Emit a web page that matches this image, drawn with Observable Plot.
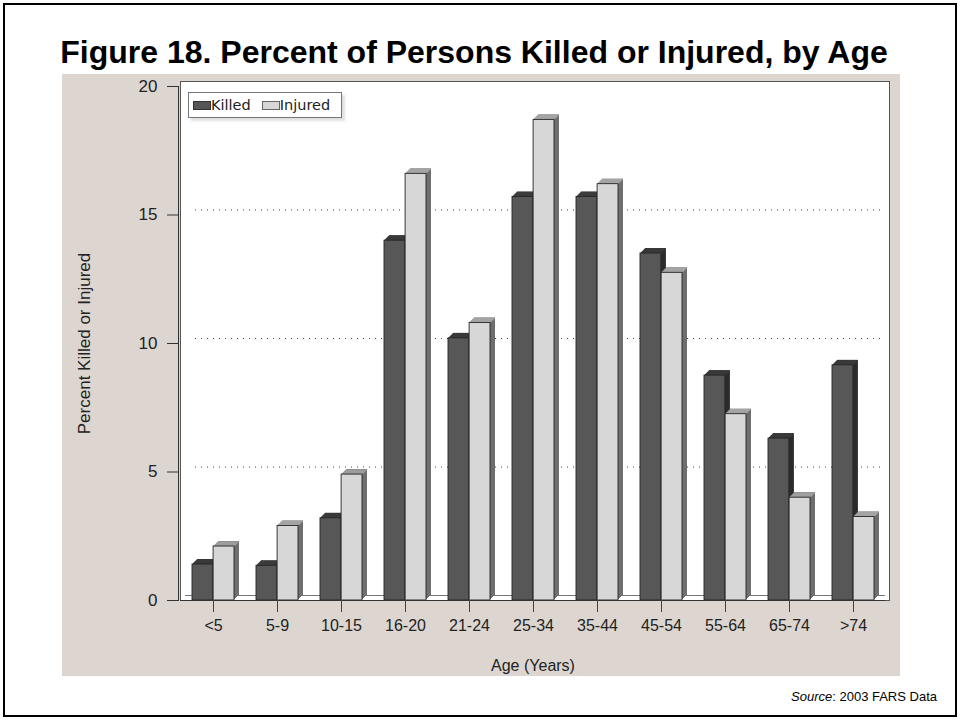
<!DOCTYPE html>
<html>
<head>
<meta charset="utf-8">
<script src="https://cdn.jsdelivr.net/npm/d3@7"></script>
<script src="https://cdn.jsdelivr.net/npm/@observablehq/plot@0.6"></script>
<style>
  html, body { margin: 0; padding: 0; background: #fff; }
  #page { position: relative; width: 961px; height: 721px; overflow: hidden; }
  #border { position: absolute; left: 3px; top: 3px; width: 954px; height: 714px; border: 2.5px solid #000; box-sizing: border-box; }
  #title { position: absolute; left: 0; width: 948px; top: 36px; text-align: center; font: bold 32px "Liberation Sans", Arial, sans-serif; line-height: 32px; color: #000; white-space: nowrap; }
  #panel { position: absolute; left: 62px; top: 74px; width: 838px; height: 602px; background: #ddd6d0; }
  #chart { position: absolute; left: 62px; top: 74px; }
  #legend { position: absolute; left: 188px; top: 92px; width: 154px; height: 26px; box-sizing: border-box; border: 1px solid #777; background: #fff; box-shadow: 3px 3px 2px rgba(0,0,0,0.12); display: flex; align-items: center; font: 14.5px "DejaVu Sans", sans-serif; color: #222; }
  .sw { width: 18px; height: 9px; border: 1px solid #333; box-sizing: border-box; }
  #source { position: absolute; right: 24px; top: 689px; font: 13px "Liberation Sans", Arial, sans-serif; line-height: 16px; color: #000; }
</style>
</head>
<body>
<div id="page">
  <div id="border"></div>
  <div id="title">Figure 18. Percent of Persons Killed or Injured, by Age</div>
  <div id="panel"></div>
  <div id="chart"></div>
  <div id="legend">
    <div class="sw" style="margin-left:4px;background:#555;"></div><span>Killed</span>
    <div class="sw" style="margin-left:11px;background:#d7d7d7;border-color:#666;"></div><span>Injured</span>
  </div>
  <div id="source"><i>Source</i>: 2003 FARS Data</div>
</div>
<script>
const ages = ["<5", "5-9", "10-15", "16-20", "21-24", "25-34", "35-44", "45-54", "55-64", "65-74", ">74"];
const killed = [1.4, 1.35, 3.2, 14.0, 10.2, 15.7, 15.7, 13.5, 8.75, 6.3, 9.15];
const injured = [2.1, 2.9, 4.9, 16.6, 10.8, 18.7, 16.2, 12.75, 7.25, 4.0, 3.25];
const yTicks = [0, 5, 10, 15, 20];
const gridValues = [5, 10, 15];
const xLabel = "Age (Years)";
const yLabel = "Percent Killed or Injured";

const rows = ages.map((a, i) => ({age: a, killed: killed[i], injured: injured[i]}));

const W = 838, H = 602;
const mL = 118, mR = 15, mT = 12, mB = 76;
const bw = (W - mL - mR) / ages.length;
const barW = 21, edge = 11;
const depth = 5;

const series = [
  {key: "killed", front: "#575757", side: "#2b2b2b", top: "#3c3c3c", insetLeft: edge, insetRight: bw - edge - barW},
  {key: "injured", front: "#d7d7d7", side: "#6e6e6e", top: "#a4a4a4", insetLeft: bw - edge - barW, insetRight: edge}
];

const marks = [
  Plot.frame({fill: "white", stroke: "#555", insetTop: -depth, insetRight: -4}),
  Plot.frame({anchor: "left", stroke: "#333", dx: -2}),
  Plot.ruleY(gridValues, {stroke: "#444", strokeDasharray: "1,5", dx: depth, dy: -depth, insetLeft: 10, insetRight: depth}),
  Plot.ruleY([0], {stroke: "#777", dx: depth, dy: -depth, insetRight: depth})
];

for (const s of series) {
  for (let k = 1; k <= depth; k++) {
    marks.push(Plot.barY(rows, {x: "age", y: s.key, fill: s.side, insetLeft: s.insetLeft, insetRight: s.insetRight, dx: k, dy: -k}));
  }
  for (let k = 0.5; k < depth; k += 1) {
    marks.push(Plot.tickY(rows, {x: "age", y: s.key, stroke: s.top, strokeWidth: 1.3, insetLeft: s.insetLeft, insetRight: s.insetRight, dx: k, dy: -k}));
  }
  marks.push(Plot.barY(rows, {x: "age", y: s.key, fill: s.front, stroke: "#262626", strokeWidth: 0.9, insetLeft: s.insetLeft, insetRight: s.insetRight}));
}

marks.push(
  Plot.ruleY([0], {stroke: "#333", strokeWidth: 1.2}),
  Plot.axisY({ticks: yTicks, tickSize: 11, tickPadding: 10, dx: -2, fontSize: 17, label: null, stroke: "#333"}),
  Plot.axisX({tickSize: 12, tickPadding: 7, fontSize: 16, label: null, stroke: "#444"}),
  Plot.text([xLabel], {frameAnchor: "bottom", lineAnchor: "middle", textAnchor: "middle", dy: 65, fontSize: 16, fill: "#222"}),
  Plot.text([yLabel], {frameAnchor: "left", textAnchor: "middle", lineAnchor: "middle", rotate: -90, dx: -96, fontSize: 17, fill: "#222"})
);

const chart = Plot.plot({
  width: W,
  height: H,
  marginLeft: mL,
  marginRight: mR,
  marginTop: mT,
  marginBottom: mB,
  style: {background: "transparent", fontFamily: "'Liberation Sans', Arial, sans-serif", color: "#222", overflow: "visible"},
  x: {type: "band", domain: ages, padding: 0},
  y: {domain: [0, 20]},
  marks
});
document.getElementById("chart").appendChild(chart);
</script>
</body>
</html>
